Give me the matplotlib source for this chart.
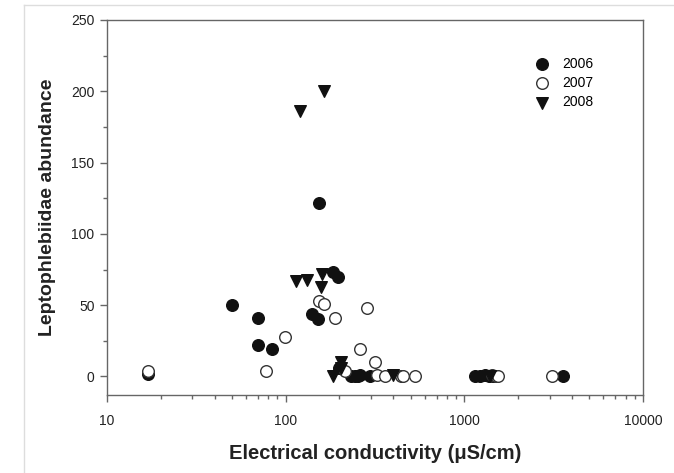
import matplotlib
matplotlib.use("Agg")
import matplotlib.pyplot as plt
from matplotlib.lines import Line2D

plt.rcParams['font.family'] = ['Liberation Sans', 'DejaVu Sans']

# 2006 (filled circles)
ec_2006 = [17, 50, 70, 70, 84, 154, 140, 151, 183, 197, 200, 232, 245, 255, 262, 295,
           1150, 1230, 1300, 1380, 1440, 3570]
ab_2006 = [2, 50, 41, 22, 19, 122, 44, 40, 73, 70, 6, 0, 0, 0, 1, 0,
           0, 0, 1, 0, 0, 0]

# 2007 (open circles)
ec_2007 = [17, 78, 99, 154, 163, 190, 286, 260, 318, 215, 324, 360, 440, 455, 532,
           1420, 1500, 1540, 3090]
ab_2007 = [4, 4, 28, 53, 51, 41, 48, 19, 10, 4, 1, 0, 0, 0, 0,
           1, 0, 0, 0]

# 2008 (triangles)
ec_2008 = [121, 164, 114, 131, 160, 157, 184, 203, 205, 398, 1400]
ab_2008 = [186, 200, 67, 68, 72, 63, 0, 10, 6, 1, 0]

W, H = 674, 473
fig = plt.figure(figsize=(W / 100, H / 100), dpi=100)
ax = fig.add_axes([107 / W, 1 - 395 / H, 536 / W, 375 / H])

ms = 70
ax.scatter(ec_2006, ab_2006, s=ms, marker='o', color='#111111', zorder=3, label='2006')
ax.scatter(ec_2007, ab_2007, s=ms, marker='o', facecolor='white', edgecolor='#333333',
           linewidths=1.0, zorder=3, label='2007')
ax.scatter(ec_2008, ab_2008, s=ms, marker='v', color='#111111', zorder=3, label='2008')

ax.set_xscale('log')
ax.set_xlim(10, 10000)
ax.set_ylim(-13, 250)
ax.set_xticks([10, 100, 1000, 10000])
ax.set_xticklabels(['10', '100', '1000', '10000'])
ax.set_yticks([0, 50, 100, 150, 200, 250])
ax.set_yticks(range(25, 250, 50), minor=True)

for s in ax.spines.values():
    s.set_color('#666666')
    s.set_linewidth(1.0)
ax.tick_params(which='major', direction='out', length=5, width=1, color='#666666',
               labelsize=10, labelcolor='#222222', pad=4)
ax.tick_params(which='minor', direction='out', length=3, width=1, color='#666666')
ax.tick_params(axis='x', which='major', pad=9)

ax.set_xlabel('Electrical conductivity (\u03bcS/cm)', fontsize=14.5, fontweight='bold',
              color='#222222', labelpad=11)
ax.set_ylabel('Leptophlebiidae abundance', fontsize=14, fontweight='bold',
              color='#222222', labelpad=11)

ax.legend(loc='upper left', bbox_to_anchor=(0.775, 0.917), frameon=False, fontsize=10,
          handletextpad=0.45, labelspacing=0.38, borderaxespad=0, scatterpoints=1)

# light border of the original screenshot
fig.add_artist(Line2D([24 / W, 1], [1 - 5 / H, 1 - 5 / H], color='#dddddd', lw=1))
fig.add_artist(Line2D([24 / W, 24 / W], [0, 1 - 5 / H], color='#dddddd', lw=1))

fig.savefig('out.png', dpi=100)
